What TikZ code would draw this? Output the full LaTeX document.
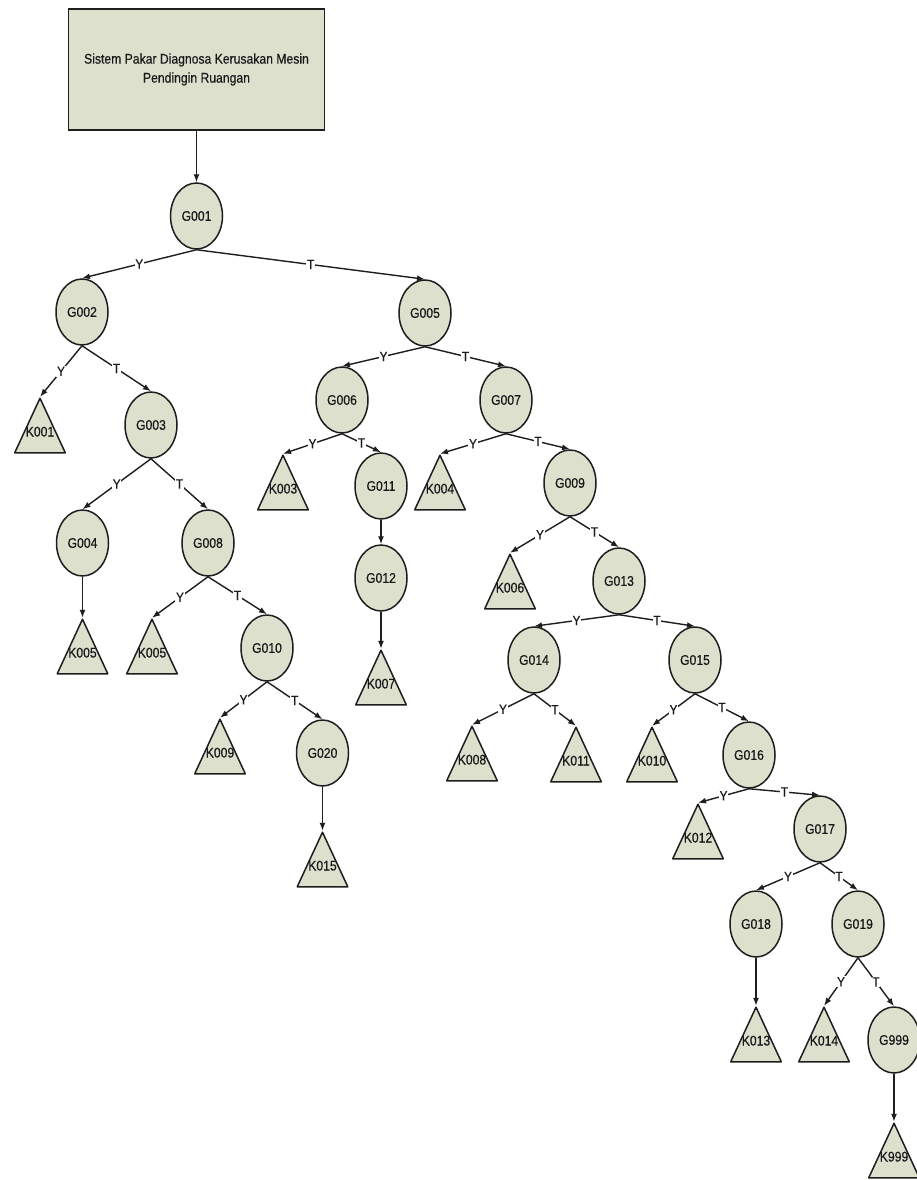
\documentclass[tikz,border=0pt]{standalone}
\usepackage{fontspec}
\setmainfont{Liberation Sans}[FakeStretch=0.87,FakeBold=0.4]
\usetikzlibrary{shapes.geometric,arrows.meta}
\definecolor{nodefill}{RGB}{221,224,205}
\definecolor{linecol}{RGB}{30,30,30}
\definecolor{txtcol}{RGB}{25,25,25}
\tikzset{
  gnode/.style={ellipse, draw=linecol, line width=1.5pt, fill=nodefill,
    minimum width=52pt, minimum height=66pt, inner sep=0pt,
    font=\fontsize{14}{15}\selectfont, text=txtcol},
  tri/.style={rectangle, minimum width=53pt, minimum height=57pt, inner sep=0pt,
    text height=22pt, text depth=0pt, font=\fontsize{14}{15}\selectfont, text=txtcol,
    path picture={\draw[line width=1.5pt, draw=linecol, fill=nodefill, line join=round]
      ([shift={(1.2pt,1.2pt)}]path picture bounding box.south west) --
      ([yshift=-1.2pt]path picture bounding box.north) --
      ([shift={(-1.2pt,1.2pt)}]path picture bounding box.south east) -- cycle;}},
  titlebox/.style={rectangle, draw=linecol, line width=1.6pt, fill=nodefill,
    minimum width=256pt, minimum height=121pt, align=center,
    font=\fontsize{14}{19}\selectfont, text=txtcol},
  edge/.style={draw=linecol, line width=1.4pt, -{Latex[length=8pt,width=6pt]}},
  lbl/.style={fill=white, inner sep=0.8pt, font=\fontsize{13.5}{14}\selectfont, text=txtcol}
}
\begin{document}
\begin{tikzpicture}[x=1pt,y=-1pt]
\fill[white] (0,0) rectangle (916,1180);
\useasboundingbox (0,0) rectangle (916,1180);

\node[titlebox] (root) at (196.5,69.5) {Sistem Pakar Diagnosa Kerusakan Mesin\\Pendingin Ruangan};

% ellipse nodes
\node[gnode] (G001) at (196.5,216) {G001};
\node[gnode] (G002) at (82,312) {G002};
\node[gnode] (G005) at (425,313) {G005};
\node[gnode] (G003) at (151,425) {G003};
\node[gnode] (G006) at (342,400) {G006};
\node[gnode] (G007) at (506,400) {G007};
\node[gnode] (G004) at (82.5,543) {G004};
\node[gnode] (G008) at (208,543) {G008};
\node[gnode] (G011) at (381,486) {G011};
\node[gnode] (G009) at (570,483) {G009};
\node[gnode] (G012) at (381,578) {G012};
\node[gnode] (G013) at (619,581) {G013};
\node[gnode] (G010) at (267,648) {G010};
\node[gnode] (G014) at (534,660) {G014};
\node[gnode] (G015) at (695,660) {G015};
\node[gnode] (G020) at (322.5,753) {G020};
\node[gnode] (G016) at (749,755) {G016};
\node[gnode] (G017) at (820,829) {G017};
\node[gnode] (G018) at (756,924) {G018};
\node[gnode] (G019) at (858,924) {G019};
\node[gnode] (G999) at (894,1040) {G999};

% triangle nodes (centre = apex + 27.5)
\node[tri] (K001) at (40,425.5) {K001};
\node[tri] (K003) at (283,482.5) {K003};
\node[tri] (K004) at (440,482.5) {K004};
\node[tri] (K005a) at (82.5,646.5) {K005};
\node[tri] (K005b) at (152,646.5) {K005};
\node[tri] (K007) at (381,677.5) {K007};
\node[tri] (K006) at (510,581.5) {K006};
\node[tri] (K009) at (220,746.5) {K009};
\node[tri] (K008) at (472,753.5) {K008};
\node[tri] (K011) at (576,754.5) {K011};
\node[tri] (K010) at (652,754.5) {K010};
\node[tri] (K015) at (322.5,859.5) {K015};
\node[tri] (K012) at (698,831.5) {K012};
\node[tri] (K013) at (756,1034.5) {K013};
\node[tri] (K014) at (824,1034.5) {K014};
\node[tri] (K999) at (894,1150.5) {K999};

% connectors
\draw[edge] (root.south) -- (G001.north);
\draw[edge] (G001.south) -- node[lbl]{Y} (G002.north);
\draw[edge] (G001.south) -- node[lbl]{T} (G005.north);
\draw[edge] (G002.south) -- node[lbl]{Y} (K001.north);
\draw[edge] (G002.south) -- node[lbl]{T} (G003.north);
\draw[edge] (G003.south) -- node[lbl]{Y} (G004.north);
\draw[edge] (G003.south) -- node[lbl]{T} (G008.north);
\draw[edge] (G004.south) -- (K005a.north);
\draw[edge] (G008.south) -- node[lbl]{Y} (K005b.north);
\draw[edge] (G008.south) -- node[lbl]{T} (G010.north);
\draw[edge] (G010.south) -- node[lbl]{Y} (K009.north);
\draw[edge] (G010.south) -- node[lbl]{T} (G020.north);
\draw[edge] (G020.south) -- (K015.north);
\draw[edge] (G005.south) -- node[lbl]{Y} (G006.north);
\draw[edge] (G005.south) -- node[lbl]{T} (G007.north);
\draw[edge] (G006.south) -- node[lbl]{Y} (K003.north);
\draw[edge] (G006.south) -- node[lbl]{T} (G011.north);
\draw[edge] (G011.south) -- (G012.north);
\draw[edge] (G012.south) -- (K007.north);
\draw[edge] (G007.south) -- node[lbl]{Y} (K004.north);
\draw[edge] (G007.south) -- node[lbl]{T} (G009.north);
\draw[edge] (G009.south) -- node[lbl]{Y} (K006.north);
\draw[edge] (G009.south) -- node[lbl]{T} (G013.north);
\draw[edge] (G013.south) -- node[lbl]{Y} (G014.north);
\draw[edge] (G013.south) -- node[lbl]{T} (G015.north);
\draw[edge] (G014.south) -- node[lbl]{Y} (K008.north);
\draw[edge] (G014.south) -- node[lbl]{T} (K011.north);
\draw[edge] (G015.south) -- node[lbl]{Y} (K010.north);
\draw[edge] (G015.south) -- node[lbl]{T} (G016.north);
\draw[edge] (G016.south) -- node[lbl]{Y} (K012.north);
\draw[edge] (G016.south) -- node[lbl]{T} (G017.north);
\draw[edge] (G017.south) -- node[lbl]{Y} (G018.north);
\draw[edge] (G017.south) -- node[lbl]{T} (G019.north);
\draw[edge] (G018.south) -- (K013.north);
\draw[edge] (G019.south) -- node[lbl]{Y} (K014.north);
\draw[edge] (G019.south) -- node[lbl]{T} (G999.north);
\draw[edge] (G999.south) -- (K999.north);
\end{tikzpicture}
\end{document}
